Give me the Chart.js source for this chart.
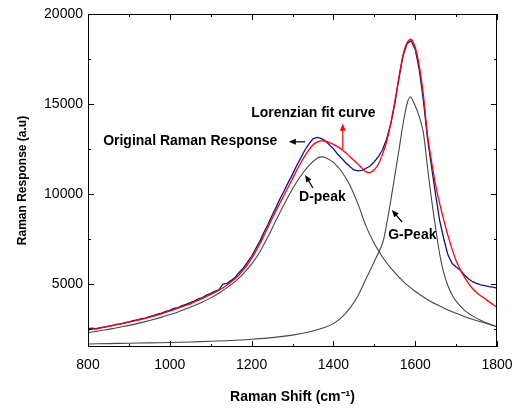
<!DOCTYPE html>
<html>
<head>
<meta charset="utf-8">
<script src="https://cdn.jsdelivr.net/npm/chart.js@4.4.0/dist/chart.umd.min.js"></script>
<style>
html,body{margin:0;padding:0;background:#fff;}
#c{display:block;}
</style>
</head>
<body>
<canvas id="c" width="516" height="408"></canvas>
<script>
// ---- data ----
const shift = [
  800, 810, 820, 830, 840, 850, 860, 870, 880, 890,
  900, 910, 920, 930, 940, 950, 960, 970, 980, 990,
  1000,1010,1020,1030,1040,1050,1060,1070,1080,1090,
  1100,1110,1120,1130,1140,1150,1160,1170,1180,1190,
  1200,1210,1220,1230,1240,1250,1260,1270,1280,1290,
  1300,1310,1320,1330,1340,1350,1360,1370,1380,1390,
  1400,1410,1420,1430,1440,1450,1460,1470,1480,1490,
  1500,1510,1520,1530,1540,1550,1560,1570,1580,1590,
  1600,1610,1620,1630,1640,1650,1660,1670,1680,1690,
  1700,1710,1720,1730,1740,1750,1760,1770,1780,1790,
  1800
];
const originalResponse = [
  2520,2550,2500,2560,2600,2660,2690,2760,2790,2860,
  2890,2960,3000,3070,3110,3190,3240,3330,3380,3480,
  3540,3640,3690,3800,3870,3970,4050,4180,4250,4390,
  4480,4590,4680,4990,5040,5200,5380,5650,5890,6220,
  6540,6960,7370,7860,8310,8810,9270,9760,10190,10660,
  11090,11570,11990,12430,12770,13060,13140,13090,12960,12740,
  12520,12220,11990,11740,11530,11340,11290,11310,11430,11550,
  11790,12070,12460,13040,13860,15000,16400,17650,18350,18520,
  18050,16900,15200,13100,11500,9950,8500,7500,6620,6150,
  5940,5780,5510,5290,5130,5030,4950,4910,4860,4830,
  4770
];
const lorentzFit = [
  2440,2480,2520,2570,2610,2650,2700,2740,2780,2830,
  2880,2930,2980,3040,3090,3150,3210,3280,3350,3420,
  3500,3580,3660,3740,3820,3900,4000,4100,4200,4310,
  4420,4530,4650,4790,4940,5110,5300,5520,5780,6080,
  6420,6800,7220,7680,8150,8620,9080,9530,9960,10400,
  10850,11300,11720,12100,12450,12720,12880,12950,12930,12860,
  12760,12630,12480,12290,12080,11870,11660,11430,11230,11190,
  11350,11650,12200,12900,13900,15100,16450,17700,18400,18600,
  18150,17100,15500,13300,11800,10500,9450,8550,7700,6950,
  6300,5800,5400,5030,4750,4530,4350,4190,4020,3860,
  3700
];
const dPeakShift = [
  800,820,840,860,880,900,920,940,960,980,
  1000,1020,1040,1060,1080,1100,1120,1140,1160,1180,
  1200,1220,1240,1260,1280,1300,1320,1340,1360,1370,
  1380,1400,1420,1440,1460,1480,1500,1520,1540,1560,
  1580,1600,1620,1640,1660,1680,1700,1720,1740,1760,
  1780,1800
];
const dPeak = [
  2300,2370,2440,2520,2610,2700,2800,2910,3030,3160,
  3300,3450,3620,3800,4000,4230,4490,4800,5150,5580,
  6100,6780,7620,8550,9450,10280,11000,11580,11990,12060,
  12030,11760,11250,10500,9450,8200,7250,6500,5900,5400,
  4950,4600,4280,4000,3780,3560,3370,3200,3040,2900,
  2760,2630
];
const gPeakShift = [
  800,850,900,950,1000,1050,1100,1150,1200,1250,
  1300,1340,1380,1400,1420,1440,1460,1480,1500,1520,
  1530,1540,1550,1560,1570,1580,1588,1600,1610,1620,
  1630,1640,1650,1660,1670,1680,1690,1700,1720,1740,
  1760,1780,1800
];
const gPeak = [
  1670,1690,1710,1730,1750,1780,1820,1860,1930,2020,
  2160,2330,2600,2800,3150,3650,4350,5300,6250,7250,
  8300,9600,11000,12400,13850,15000,15400,14900,14300,13400,
  11500,9700,8100,6650,5600,4900,4400,4050,3550,3230,
  2990,2790,2630
];
const xTicks = [800,900,1000,1100,1200,1300,1400,1500,1600,1700,1800];
const xLabelled = [800,1000,1200,1400,1600,1800];
const yTicks = [2500,5000,7500,10000,12500,15000,17500,20000];
const yLabelled = [5000,10000,15000,20000];

// annotation texts, anchored in data coordinates
const labels = [
  {text:'Original Raman Response', x:837, y:12944},
  {text:'Lorenzian fit curve', x:1199, y:14500},
  {text:'D-peak', x:1316, y:9833},
  {text:'G-Peak', x:1534, y:7722}
];
const arrows = [
  {from:[1331,12900], to:[1291,12900], color:'#000'},
  {from:[1423,12500], to:[1423,13900], color:'#ff0000'},
  {from:[1350,10333], to:[1331,11056], color:'#000'},
  {from:[1568,8444], to:[1543,9111], color:'#000'}
];

const pts = (xs, ys) => xs.map((x,i)=>({x:x, y:ys[i]}));
const FONT = "'Liberation Sans', Arial, sans-serif";

const frameTicks = {
  id:'frameTicks',
  afterDraw(chart){
    const {ctx, chartArea:a, scales:{x, y}} = chart;
    ctx.save();
    ctx.strokeStyle = '#000';
    ctx.lineWidth = 1;
    ctx.strokeRect(Math.round(a.left)+0.5, Math.round(a.top)+0.5,
                   Math.round(a.right-a.left)-1, Math.round(a.bottom-a.top)-1);
    ctx.beginPath();
    xTicks.forEach(v=>{
      const px = Math.round(x.getPixelForValue(v))+0.5;
      const len = xLabelled.includes(v) ? 6 : 3;
      ctx.moveTo(px, a.bottom); ctx.lineTo(px, a.bottom-len);
      ctx.moveTo(px, a.top); ctx.lineTo(px, a.top+len);
    });
    yTicks.forEach(v=>{
      const py = Math.round(y.getPixelForValue(v))+0.5;
      const len = yLabelled.includes(v) ? 6 : 3;
      ctx.moveTo(a.left, py); ctx.lineTo(a.left+len, py);
      ctx.moveTo(a.right, py); ctx.lineTo(a.right-len, py);
    });
    ctx.stroke();

    // annotations
    ctx.fillStyle = '#000';
    ctx.font = 'bold 14px ' + FONT;
    ctx.textAlign = 'left';
    ctx.textBaseline = 'middle';
    labels.forEach(l=>{
      ctx.fillText(l.text, x.getPixelForValue(l.x), y.getPixelForValue(l.y));
    });
    arrows.forEach(ar=>{
      const x0 = x.getPixelForValue(ar.from[0]), y0 = y.getPixelForValue(ar.from[1]);
      const x1 = x.getPixelForValue(ar.to[0]), y1 = y.getPixelForValue(ar.to[1]);
      const ang = Math.atan2(y1-y0, x1-x0);
      const hl = 7, hw = 3;
      ctx.strokeStyle = ar.color; ctx.fillStyle = ar.color;
      ctx.lineWidth = 1.2;
      ctx.beginPath();
      ctx.moveTo(x0, y0);
      ctx.lineTo(x1 - Math.cos(ang)*hl*0.8, y1 - Math.sin(ang)*hl*0.8);
      ctx.stroke();
      ctx.beginPath();
      ctx.moveTo(x1, y1);
      ctx.lineTo(x1 - Math.cos(ang)*hl - Math.sin(ang)*hw, y1 - Math.sin(ang)*hl + Math.cos(ang)*hw);
      ctx.lineTo(x1 - Math.cos(ang)*hl + Math.sin(ang)*hw, y1 - Math.sin(ang)*hl - Math.cos(ang)*hw);
      ctx.closePath();
      ctx.fill();
    });
    ctx.restore();
  }
};

new Chart(document.getElementById('c'), {
  type: 'line',
  data: {
    datasets: [
      {label:'Lorenzian fit curve', data: pts(shift, lorentzFit), borderColor:'#ff0000', borderWidth:1.3, pointRadius:0, tension:0.3, fill:false},
      {label:'Original Raman Response', data: pts(shift, originalResponse), borderColor:'#12128c', borderWidth:1.3, pointRadius:0, tension:0, fill:false},
      {label:'D-peak', data: pts(dPeakShift, dPeak), borderColor:'#474747', borderWidth:1.1, pointRadius:0, tension:0.3, fill:false},
      {label:'G-Peak', data: pts(gPeakShift, gPeak), borderColor:'#474747', borderWidth:1.1, pointRadius:0, tension:0.3, fill:false}
    ]
  },
  options: {
    responsive: false,
    animation: false,
    devicePixelRatio: 1,
    layout: { padding: { top: 14, right: 19, left: 0, bottom: 0 } },
    plugins: { legend: { display: false }, tooltip: { enabled: false } },
    scales: {
      x: {
        type: 'linear', min: 800, max: 1800,
        grid: { display: false, drawTicks: false }, border: { display: false },
        afterBuildTicks: s => { s.ticks = xTicks.map(v=>({value:v})); },
        afterFit: s => { s.height = 61; s.paddingLeft = 0; s.paddingRight = 0; },
        ticks: {
          padding: 10, color: '#000', maxRotation: 0, autoSkip: false,
          font: { family: FONT, size: 14 },
          callback: v => xLabelled.includes(v) ? String(v) : ''
        },
        title: { display: true, text: 'Raman Shift (cm\u207B\u00B9)', color: '#000',
                 font: { family: FONT, size: 14, weight: 'bold' }, padding: { top: 0, bottom: 2 } }
      },
      y: {
        type: 'linear', min: 1500, max: 20000,
        grid: { display: false, drawTicks: false }, border: { display: false },
        afterBuildTicks: s => { s.ticks = yTicks.map(v=>({value:v})); },
        afterFit: s => { s.width = 88; s.paddingTop = 0; s.paddingBottom = 0; },
        ticks: {
          padding: 5, color: '#000', autoSkip: false,
          font: { family: FONT, size: 14 },
          callback: v => yLabelled.includes(v) ? String(v) : ''
        },
        title: { display: true, text: 'Raman Response (a.u)', color: '#000',
                 font: { family: FONT, size: 12, weight: 'bold' }, padding: { top: 15, bottom: 0 } }
      }
    }
  },
  plugins: [frameTicks]
});
</script>
</body>
</html>
